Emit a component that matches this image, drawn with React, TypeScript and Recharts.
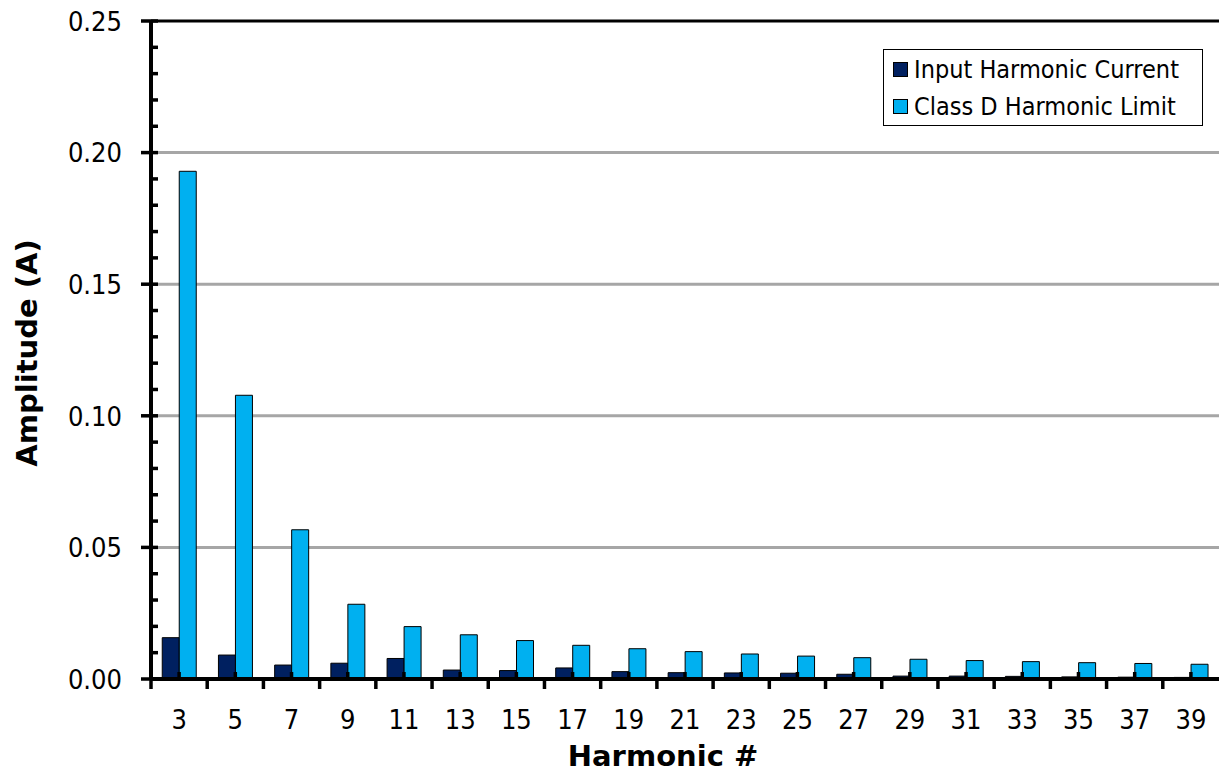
import React from 'react'
import {
  Bar,
  BarChart,
  CartesianGrid,
  Legend,
  ReferenceLine,
  XAxis,
  YAxis
} from 'recharts'

const harmonics = ['3', '5', '7', '9', '11', '13', '15', '17', '19', '21', '23', '25', '27', '29', '31', '33', '35', '37', '39']
const inputCurrent = [0.0157, 0.0091, 0.0053, 0.006, 0.0078, 0.0034, 0.0032, 0.0042, 0.0028, 0.0024, 0.0023, 0.0022, 0.0018, 0.0011, 0.0011, 0.001, 0.0008, 0.0007, 0.0006]
const classDLimit = [0.1929, 0.1078, 0.0567, 0.0284, 0.0199, 0.0168, 0.0146, 0.0128, 0.0115, 0.0104, 0.0095, 0.0087, 0.0081, 0.0075, 0.007, 0.0066, 0.0062, 0.0059, 0.0056]

const yMajorTicks = [0, 0.05, 0.1, 0.15, 0.2, 0.25]
const yAllTicks = [
  0, 0.01, 0.02, 0.03, 0.04, 0.05, 0.06, 0.07, 0.08, 0.09, 0.1, 0.11, 0.12,
  0.13, 0.14, 0.15, 0.16, 0.17, 0.18, 0.19, 0.2, 0.21, 0.22, 0.23, 0.24, 0.25
]
const gridValues = [0.05, 0.1, 0.15, 0.2]

const series = [
  { key: 'current', name: 'Input Harmonic Current', color: '#002060' },
  { key: 'limit', name: 'Class D Harmonic Limit', color: '#00B0F0' }
]

const data = harmonics.map((h, i) => ({
  harmonic: h,
  current: inputCurrent[i],
  limit: classDLimit[i]
}))

const FONT = "'DejaVu Sans Condensed', 'DejaVu Sans', sans-serif"
const TITLE_FONT = "'DejaVu Sans', sans-serif"
const W = 1221
const H = 777
const BAND = (W - 151 - 2) / harmonics.length

const YTick = (props: any) => {
  const { x, y, payload } = props
  const v = payload.value
  const major = yMajorTicks.some((m) => Math.abs(m - v) < 1e-9)
  if (!major) {
    return <line x1={x} x2={x + 7} y1={y} y2={y} stroke="#000" strokeWidth={3.5} />
  }
  return (
    <g>
      <line x1={x - 10} x2={x + 7} y1={y} y2={y} stroke="#000" strokeWidth={3.5} />
      <text x={x - 29} y={y} dy="0.36em" textAnchor="end" fontSize={27} fontFamily={FONT} fill="#000">
        {v.toFixed(2)}
      </text>
    </g>
  )
}

const XTick = (props: any) => {
  const { x, y, payload } = props
  const half = payload.offset || BAND / 2
  return (
    <g>
      <line x1={x - half} x2={x - half} y1={y} y2={y + 10} stroke="#000" strokeWidth={3.5} />
      <line x1={x} x2={x} y1={y} y2={y - 7} stroke="#000" strokeWidth={3.5} />
      <text x={x} y={y + 50} textAnchor="middle" fontSize={27} fontFamily={FONT} fill="#000">
        {payload.value}
      </text>
    </g>
  )
}

const LegendBox = () => (
  <div
    style={{
      border: '1px solid #000',
      background: '#fff',
      padding: '1px 0 0 9px',
      boxSizing: 'border-box',
      width: 320,
      height: 77,
      fontFamily: FONT,
      fontSize: 25,
      color: '#000'
    }}
  >
    {series.map((s) => (
      <div key={s.key} style={{ display: 'flex', alignItems: 'center', height: 37 }}>
        <span
          style={{
            display: 'inline-block',
            width: 15,
            height: 15,
            background: s.color,
            border: '1px solid #000',
            boxSizing: 'border-box',
            marginRight: 6
          }}
        />
        <span>{s.name}</span>
      </div>
    ))}
  </div>
)

const App: React.FC = () => {
  return (
    <div style={{ position: 'absolute', left: 0, top: 0, width: W, height: H, background: '#fff' }}>
      <BarChart
        width={W}
        height={H}
        data={data}
        margin={{ top: 21, right: 2, bottom: 0, left: 0 }}
        barCategoryGap="20%"
        barGap={0}
      >
        <CartesianGrid
          vertical={false}
          horizontalValues={gridValues}
          stroke="#A6A6A6"
          strokeWidth={3}
        />
        <XAxis
          dataKey="harmonic"
          height={98}
          interval={0}
          tickSize={0}
          tickMargin={0}
          tick={<XTick />}
          axisLine={{ stroke: '#000', strokeWidth: 4 }}
          label={{
            value: 'Harmonic #',
            position: 'insideBottom',
            offset: 11,
            dx: -22,
            fontSize: 29,
            fontWeight: 'bold',
            fontFamily: TITLE_FONT,
            fill: '#000'
          }}
        />
        <YAxis
          width={151}
          domain={[0, 0.25]}
          ticks={yAllTicks}
          interval={0}
          tickSize={0}
          tickMargin={0}
          tick={<YTick />}
          axisLine={{ stroke: '#000', strokeWidth: 4 }}
          label={{
            value: 'Amplitude (A)',
            position: 'center',
            angle: -90,
            dx: -49,
            dy: 3,
            fontSize: 29,
            fontWeight: 'bold',
            fontFamily: TITLE_FONT,
            fill: '#000'
          }}
        />
        <YAxis
          yAxisId="frame"
          orientation="right"
          width={0}
          domain={[0, 0.25]}
          tick={false}
          tickLine={false}
          axisLine={{ stroke: '#000', strokeWidth: 3 }}
        />
        <ReferenceLine y={0.25} stroke="#000" strokeWidth={3} />
        <Legend
          layout="horizontal"
          verticalAlign="middle"
          align="center"
          content={<LegendBox />}
          wrapperStyle={{ top: 49, left: 883, width: 320, height: 77 }}
        />
        {series.map((s) => (
          <Bar
            key={s.key}
            dataKey={s.key}
            name={s.name}
            fill={s.color}
            stroke="#000"
            strokeWidth={1}
            isAnimationActive={false}
          />
        ))}
      </BarChart>
    </div>
  )
}

export default App
